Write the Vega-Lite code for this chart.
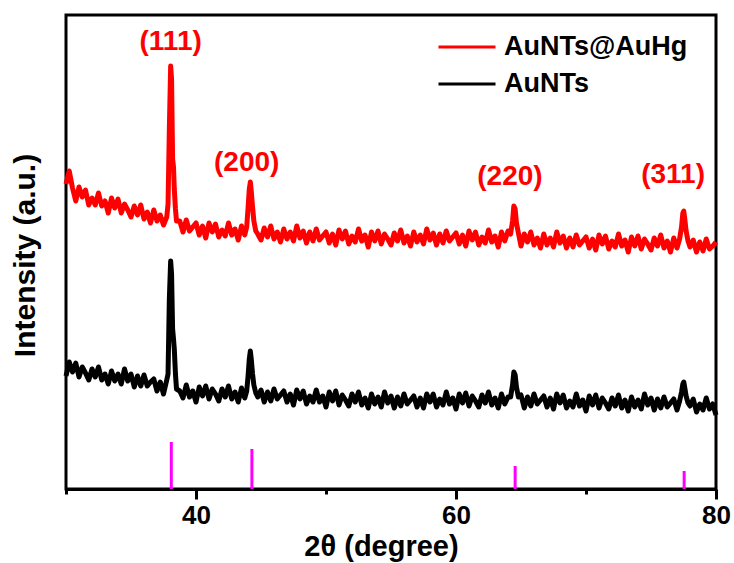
{
"$schema": "https://vega.github.io/schema/vega-lite/v6.json",
"width": 650, "height": 474,
"autosize": {"type": "none"},
"padding": {"left": 66, "top": 15, "right": 18, "bottom": 74},
"background": "white",
"config": {"view": {"stroke": "black", "strokeWidth": 3}, "font": "Liberation Sans"},
"datasets": {
"xrd": [
{"x":30,"AuNTs@AuHg":305,"AuNTs":113},{"x":30.25,"AuNTs@AuHg":318,"AuNTs":127},{"x":30.5,"AuNTs@AuHg":301,"AuNTs":117},{"x":30.75,"AuNTs@AuHg":288,"AuNTs":126},
{"x":31,"AuNTs@AuHg":302,"AuNTs":112},{"x":31.25,"AuNTs@AuHg":292,"AuNTs":122},{"x":31.5,"AuNTs@AuHg":299,"AuNTs":116},{"x":31.75,"AuNTs@AuHg":284,"AuNTs":109},
{"x":32,"AuNTs@AuHg":291,"AuNTs":120},{"x":32.25,"AuNTs@AuHg":284,"AuNTs":112},{"x":32.5,"AuNTs@AuHg":296,"AuNTs":122},{"x":32.75,"AuNTs@AuHg":283,"AuNTs":109},
{"x":33,"AuNTs@AuHg":288,"AuNTs":115},{"x":33.25,"AuNTs@AuHg":276,"AuNTs":105},{"x":33.5,"AuNTs@AuHg":291,"AuNTs":118},{"x":33.75,"AuNTs@AuHg":281,"AuNTs":108},
{"x":34,"AuNTs@AuHg":290,"AuNTs":115},{"x":34.25,"AuNTs@AuHg":276,"AuNTs":105},{"x":34.5,"AuNTs@AuHg":285,"AuNTs":120},{"x":34.75,"AuNTs@AuHg":279,"AuNTs":108},
{"x":35,"AuNTs@AuHg":272,"AuNTs":115},{"x":35.25,"AuNTs@AuHg":283,"AuNTs":102},{"x":35.5,"AuNTs@AuHg":274,"AuNTs":113},{"x":35.75,"AuNTs@AuHg":284,"AuNTs":103},
{"x":36,"AuNTs@AuHg":270,"AuNTs":114},{"x":36.25,"AuNTs@AuHg":277,"AuNTs":103},{"x":36.5,"AuNTs@AuHg":266,"AuNTs":107},{"x":36.75,"AuNTs@AuHg":279,"AuNTs":110},
{"x":37,"AuNTs@AuHg":268,"AuNTs":98},{"x":37.25,"AuNTs@AuHg":274,"AuNTs":107},{"x":37.5,"AuNTs@AuHg":264,"AuNTs":95},{"x":37.75,"AuNTs@AuHg":272,"AuNTs":109},
{"x":37.85,"AuNTs@AuHg":285,"AuNTs":115},{"x":37.95,"AuNTs@AuHg":360,"AuNTs":190},{"x":38.05,"AuNTs@AuHg":423,"AuNTs":228},{"x":38.12,"AuNTs@AuHg":410,"AuNTs":215},
{"x":38.2,"AuNTs@AuHg":330,"AuNTs":160},{"x":38.27,"AuNTs@AuHg":322,"AuNTs":150},{"x":38.33,"AuNTs@AuHg":300,"AuNTs":140},{"x":38.42,"AuNTs@AuHg":280,"AuNTs":115},
{"x":38.5,"AuNTs@AuHg":268,"AuNTs":100},{"x":38.75,"AuNTs@AuHg":268,"AuNTs":98},
{"x":39,"AuNTs@AuHg":257,"AuNTs":91},{"x":39.25,"AuNTs@AuHg":269,"AuNTs":104},{"x":39.5,"AuNTs@AuHg":258,"AuNTs":92},{"x":39.75,"AuNTs@AuHg":262,"AuNTs":98},
{"x":40,"AuNTs@AuHg":266,"AuNTs":87},{"x":40.25,"AuNTs@AuHg":254,"AuNTs":102},{"x":40.5,"AuNTs@AuHg":263,"AuNTs":93},{"x":40.75,"AuNTs@AuHg":251,"AuNTs":103},
{"x":41,"AuNTs@AuHg":266,"AuNTs":90},{"x":41.25,"AuNTs@AuHg":257,"AuNTs":100},{"x":41.5,"AuNTs@AuHg":265,"AuNTs":95},{"x":41.75,"AuNTs@AuHg":252,"AuNTs":88},
{"x":42,"AuNTs@AuHg":259,"AuNTs":100},{"x":42.25,"AuNTs@AuHg":253,"AuNTs":92},{"x":42.5,"AuNTs@AuHg":266,"AuNTs":103},{"x":42.75,"AuNTs@AuHg":254,"AuNTs":90},
{"x":43,"AuNTs@AuHg":260,"AuNTs":97},{"x":43.25,"AuNTs@AuHg":249,"AuNTs":87},{"x":43.5,"AuNTs@AuHg":263,"AuNTs":101},{"x":43.75,"AuNTs@AuHg":254,"AuNTs":91},
{"x":43.9,"AuNTs@AuHg":262,"AuNTs":98},{"x":44,"AuNTs@AuHg":280,"AuNTs":112},{"x":44.1,"AuNTs@AuHg":300,"AuNTs":130},{"x":44.18,"AuNTs@AuHg":307,"AuNTs":138},
{"x":44.25,"AuNTs@AuHg":298,"AuNTs":130},{"x":44.35,"AuNTs@AuHg":282,"AuNTs":115},{"x":44.45,"AuNTs@AuHg":268,"AuNTs":104},{"x":44.6,"AuNTs@AuHg":258,"AuNTs":96},
{"x":44.75,"AuNTs@AuHg":255,"AuNTs":92},{"x":45,"AuNTs@AuHg":249,"AuNTs":99},{"x":45.25,"AuNTs@AuHg":261,"AuNTs":87},{"x":45.5,"AuNTs@AuHg":252,"AuNTs":97},
{"x":45.75,"AuNTs@AuHg":263,"AuNTs":88},{"x":46,"AuNTs@AuHg":250,"AuNTs":100},{"x":46.25,"AuNTs@AuHg":257,"AuNTs":90},{"x":46.5,"AuNTs@AuHg":247,"AuNTs":94},
{"x":46.75,"AuNTs@AuHg":260,"AuNTs":98},{"x":47,"AuNTs@AuHg":250,"AuNTs":87},{"x":47.25,"AuNTs@AuHg":257,"AuNTs":95},{"x":47.5,"AuNTs@AuHg":248,"AuNTs":84},
{"x":47.75,"AuNTs@AuHg":263,"AuNTs":99},{"x":48,"AuNTs@AuHg":251,"AuNTs":90},{"x":48.25,"AuNTs@AuHg":258,"AuNTs":98},{"x":48.5,"AuNTs@AuHg":246,"AuNTs":85},
{"x":48.75,"AuNTs@AuHg":257,"AuNTs":93},{"x":49,"AuNTs@AuHg":248,"AuNTs":87},{"x":49.25,"AuNTs@AuHg":260,"AuNTs":99},{"x":49.5,"AuNTs@AuHg":249,"AuNTs":87},
{"x":49.75,"AuNTs@AuHg":253,"AuNTs":93},{"x":50,"AuNTs@AuHg":257,"AuNTs":82},{"x":50.25,"AuNTs@AuHg":246,"AuNTs":97},{"x":50.5,"AuNTs@AuHg":255,"AuNTs":88},
{"x":50.75,"AuNTs@AuHg":244,"AuNTs":98},{"x":51,"AuNTs@AuHg":259,"AuNTs":84},{"x":51.25,"AuNTs@AuHg":250,"AuNTs":94},{"x":51.5,"AuNTs@AuHg":258,"AuNTs":89},
{"x":51.75,"AuNTs@AuHg":245,"AuNTs":83},{"x":52,"AuNTs@AuHg":253,"AuNTs":95},{"x":52.25,"AuNTs@AuHg":247,"AuNTs":87},{"x":52.5,"AuNTs@AuHg":260,"AuNTs":97},
{"x":52.75,"AuNTs@AuHg":248,"AuNTs":84},{"x":53,"AuNTs@AuHg":254,"AuNTs":91},{"x":53.25,"AuNTs@AuHg":242,"AuNTs":81},{"x":53.5,"AuNTs@AuHg":257,"AuNTs":95},
{"x":53.75,"AuNTs@AuHg":248,"AuNTs":85},{"x":54,"AuNTs@AuHg":258,"AuNTs":92},{"x":54.25,"AuNTs@AuHg":245,"AuNTs":82},{"x":54.5,"AuNTs@AuHg":255,"AuNTs":97},
{"x":54.75,"AuNTs@AuHg":250,"AuNTs":86},{"x":55,"AuNTs@AuHg":244,"AuNTs":93},{"x":55.25,"AuNTs@AuHg":256,"AuNTs":81},{"x":55.5,"AuNTs@AuHg":248,"AuNTs":92},
{"x":55.75,"AuNTs@AuHg":259,"AuNTs":83},{"x":56,"AuNTs@AuHg":246,"AuNTs":95},{"x":56.25,"AuNTs@AuHg":253,"AuNTs":85},{"x":56.5,"AuNTs@AuHg":243,"AuNTs":89},
{"x":56.75,"AuNTs@AuHg":257,"AuNTs":93},{"x":57,"AuNTs@AuHg":247,"AuNTs":82},{"x":57.25,"AuNTs@AuHg":254,"AuNTs":91},{"x":57.5,"AuNTs@AuHg":245,"AuNTs":81},
{"x":57.75,"AuNTs@AuHg":260,"AuNTs":95},{"x":58,"AuNTs@AuHg":249,"AuNTs":87},{"x":58.25,"AuNTs@AuHg":256,"AuNTs":95},{"x":58.5,"AuNTs@AuHg":244,"AuNTs":82},
{"x":58.75,"AuNTs@AuHg":255,"AuNTs":90},{"x":59,"AuNTs@AuHg":246,"AuNTs":84},{"x":59.25,"AuNTs@AuHg":258,"AuNTs":97},{"x":59.5,"AuNTs@AuHg":248,"AuNTs":85},
{"x":59.75,"AuNTs@AuHg":252,"AuNTs":91},{"x":60,"AuNTs@AuHg":256,"AuNTs":80},{"x":60.25,"AuNTs@AuHg":245,"AuNTs":95},{"x":60.5,"AuNTs@AuHg":254,"AuNTs":86},
{"x":60.75,"AuNTs@AuHg":243,"AuNTs":96},{"x":61,"AuNTs@AuHg":258,"AuNTs":83},{"x":61.25,"AuNTs@AuHg":249,"AuNTs":93},{"x":61.5,"AuNTs@AuHg":257,"AuNTs":88},
{"x":61.75,"AuNTs@AuHg":244,"AuNTs":82},{"x":62,"AuNTs@AuHg":252,"AuNTs":94},{"x":62.25,"AuNTs@AuHg":246,"AuNTs":86},{"x":62.5,"AuNTs@AuHg":259,"AuNTs":97},
{"x":62.75,"AuNTs@AuHg":247,"AuNTs":84},{"x":63,"AuNTs@AuHg":253,"AuNTs":91},{"x":63.25,"AuNTs@AuHg":242,"AuNTs":81},{"x":63.5,"AuNTs@AuHg":257,"AuNTs":95},
{"x":63.75,"AuNTs@AuHg":248,"AuNTs":85},{"x":64,"AuNTs@AuHg":258,"AuNTs":92},{"x":64.2,"AuNTs@AuHg":255,"AuNTs":92},{"x":64.35,"AuNTs@AuHg":268,"AuNTs":104},
{"x":64.45,"AuNTs@AuHg":283,"AuNTs":117},{"x":64.55,"AuNTs@AuHg":280,"AuNTs":114},{"x":64.65,"AuNTs@AuHg":266,"AuNTs":102},{"x":64.8,"AuNTs@AuHg":256,"AuNTs":92},
{"x":65,"AuNTs@AuHg":243,"AuNTs":94},{"x":65.25,"AuNTs@AuHg":255,"AuNTs":81},{"x":65.5,"AuNTs@AuHg":247,"AuNTs":92},{"x":65.75,"AuNTs@AuHg":257,"AuNTs":83},
{"x":66,"AuNTs@AuHg":244,"AuNTs":95},{"x":66.25,"AuNTs@AuHg":251,"AuNTs":85},{"x":66.5,"AuNTs@AuHg":241,"AuNTs":89},{"x":66.75,"AuNTs@AuHg":255,"AuNTs":93},
{"x":67,"AuNTs@AuHg":244,"AuNTs":82},{"x":67.25,"AuNTs@AuHg":251,"AuNTs":91},{"x":67.5,"AuNTs@AuHg":242,"AuNTs":80},{"x":67.75,"AuNTs@AuHg":257,"AuNTs":95},
{"x":68,"AuNTs@AuHg":246,"AuNTs":86},{"x":68.25,"AuNTs@AuHg":253,"AuNTs":94},{"x":68.5,"AuNTs@AuHg":241,"AuNTs":81},{"x":68.75,"AuNTs@AuHg":251,"AuNTs":88},
{"x":69,"AuNTs@AuHg":242,"AuNTs":82},{"x":69.25,"AuNTs@AuHg":254,"AuNTs":95},{"x":69.5,"AuNTs@AuHg":244,"AuNTs":83},{"x":69.75,"AuNTs@AuHg":248,"AuNTs":89},
{"x":70,"AuNTs@AuHg":252,"AuNTs":78},{"x":70.25,"AuNTs@AuHg":241,"AuNTs":93},{"x":70.5,"AuNTs@AuHg":250,"AuNTs":84},{"x":70.75,"AuNTs@AuHg":239,"AuNTs":94},
{"x":71,"AuNTs@AuHg":254,"AuNTs":81},{"x":71.25,"AuNTs@AuHg":245,"AuNTs":91},{"x":71.5,"AuNTs@AuHg":253,"AuNTs":86},{"x":71.75,"AuNTs@AuHg":240,"AuNTs":80},
{"x":72,"AuNTs@AuHg":248,"AuNTs":91},{"x":72.25,"AuNTs@AuHg":242,"AuNTs":83},{"x":72.5,"AuNTs@AuHg":255,"AuNTs":94},{"x":72.75,"AuNTs@AuHg":243,"AuNTs":81},
{"x":73,"AuNTs@AuHg":249,"AuNTs":89},{"x":73.25,"AuNTs@AuHg":237,"AuNTs":78},{"x":73.5,"AuNTs@AuHg":252,"AuNTs":92},{"x":73.75,"AuNTs@AuHg":243,"AuNTs":82},
{"x":74,"AuNTs@AuHg":253,"AuNTs":89},{"x":74.25,"AuNTs@AuHg":240,"AuNTs":80},{"x":74.5,"AuNTs@AuHg":250,"AuNTs":95},{"x":74.75,"AuNTs@AuHg":245,"AuNTs":84},
{"x":75,"AuNTs@AuHg":239,"AuNTs":91},{"x":75.25,"AuNTs@AuHg":251,"AuNTs":79},{"x":75.5,"AuNTs@AuHg":243,"AuNTs":90},{"x":75.75,"AuNTs@AuHg":254,"AuNTs":81},
{"x":76,"AuNTs@AuHg":241,"AuNTs":92},{"x":76.25,"AuNTs@AuHg":248,"AuNTs":82},{"x":76.5,"AuNTs@AuHg":237,"AuNTs":86},{"x":76.75,"AuNTs@AuHg":251,"AuNTs":90},
{"x":77,"AuNTs@AuHg":241,"AuNTs":79},{"x":77.2,"AuNTs@AuHg":250,"AuNTs":88},{"x":77.35,"AuNTs@AuHg":262,"AuNTs":97},{"x":77.45,"AuNTs@AuHg":276,"AuNTs":105},
{"x":77.52,"AuNTs@AuHg":278,"AuNTs":107},{"x":77.6,"AuNTs@AuHg":270,"AuNTs":101},{"x":77.7,"AuNTs@AuHg":258,"AuNTs":93},{"x":77.85,"AuNTs@AuHg":248,"AuNTs":86},
{"x":78,"AuNTs@AuHg":242,"AuNTs":83},{"x":78.25,"AuNTs@AuHg":249,"AuNTs":90},{"x":78.5,"AuNTs@AuHg":237,"AuNTs":77},{"x":78.75,"AuNTs@AuHg":247,"AuNTs":85},
{"x":79,"AuNTs@AuHg":238,"AuNTs":79},{"x":79.25,"AuNTs@AuHg":250,"AuNTs":91},{"x":79.5,"AuNTs@AuHg":240,"AuNTs":80},{"x":79.75,"AuNTs@AuHg":243,"AuNTs":85},
{"x":80,"AuNTs@AuHg":247,"AuNTs":74}
],
"sticks": [{"x":38.1,"h":47},{"x":44.3,"h":40},{"x":64.55,"h":23},{"x":77.55,"h":18}],
"labels": [{"x":38.05,"y":447,"t":"(111)"},{"x":43.9,"y":326,"t":"(200)"},{"x":64.15,"y":312,"t":"(220)"},{"x":76.7,"y":314,"t":"(311)"}]
},
"layer": [
{
"data": {"name": "xrd"},
"transform": [{"fold": ["AuNTs@AuHg", "AuNTs"], "as": ["s", "v"]}],
"mark": {"type": "line", "strokeWidth": 5, "strokeJoin": "round"},
"encoding": {
"x": {"field": "x", "type": "quantitative",
 "scale": {"domain": [30, 80], "nice": false, "zero": false},
 "axis": {"title": "2θ (degree)", "grid": false, "values": [30, 40, 50, 60, 70, 80],
  "labelExpr": "datum.value == 40 || datum.value == 60 || datum.value == 80 ? datum.label : ''",
  "tickSize": {"condition": {"test": "datum.value == 50 || datum.value == 70 || datum.value == 30", "value": 5}, "value": 10},
  "tickWidth": 3, "tickColor": "black", "domainColor": "black", "domainWidth": 3,
  "labelFont": "Liberation Sans", "labelFontWeight": "bold", "labelFontSize": 26, "labelColor": "black",
  "labelPadding": 3, "labelFlush": false, "labelOverlap": false,
  "titleFont": "Liberation Sans", "titleFontWeight": "bold", "titleFontSize": 29, "titleColor": "black",
  "titleX": 315, "titleY": 66, "titleBaseline": "alphabetic"}},
"y": {"field": "v", "type": "quantitative",
 "scale": {"domain": [0, 474], "nice": false},
 "axis": {"title": "Intensity (a.u.)", "labels": false, "ticks": false, "domain": false, "grid": false,
  "titleFont": "Liberation Sans", "titleFontWeight": "bold", "titleFontSize": 30, "titleColor": "black",
  "titleX": -41, "titleY": 240, "titleBaseline": "middle", "titleAngle": -90}},
"color": {"field": "s", "type": "nominal",
 "scale": {"domain": ["AuNTs@AuHg", "AuNTs"], "range": ["#ff0000", "#000000"]},
 "legend": {"orient": "none", "legendX": 387.5, "legendY": 18.5, "title": null,
  "symbolType": "M-5.7,0H5.7", "symbolSize": 100, "symbolStrokeWidth": 3,
  "labelFont": "Liberation Sans", "labelFontWeight": "bold", "labelFontSize": 27, "labelColor": "black",
  "labelLimit": 400, "labelOffset": 23.5, "rowPadding": 9, "padding": 0}}
}
},
{
"data": {"name": "sticks"},
"mark": {"type": "rule", "color": "#ff00ff", "strokeWidth": 3},
"encoding": {
"x": {"field": "x", "type": "quantitative"},
"y": {"field": "h", "type": "quantitative"},
"y2": {"datum": 0}
}
},
{
"data": {"name": "labels"},
"mark": {"type": "text", "color": "#ff0000", "font": "Liberation Sans", "fontWeight": "bold", "fontSize": 28, "baseline": "middle"},
"encoding": {
"x": {"field": "x", "type": "quantitative"},
"y": {"field": "y", "type": "quantitative"},
"text": {"field": "t"}
}
}
]
}
